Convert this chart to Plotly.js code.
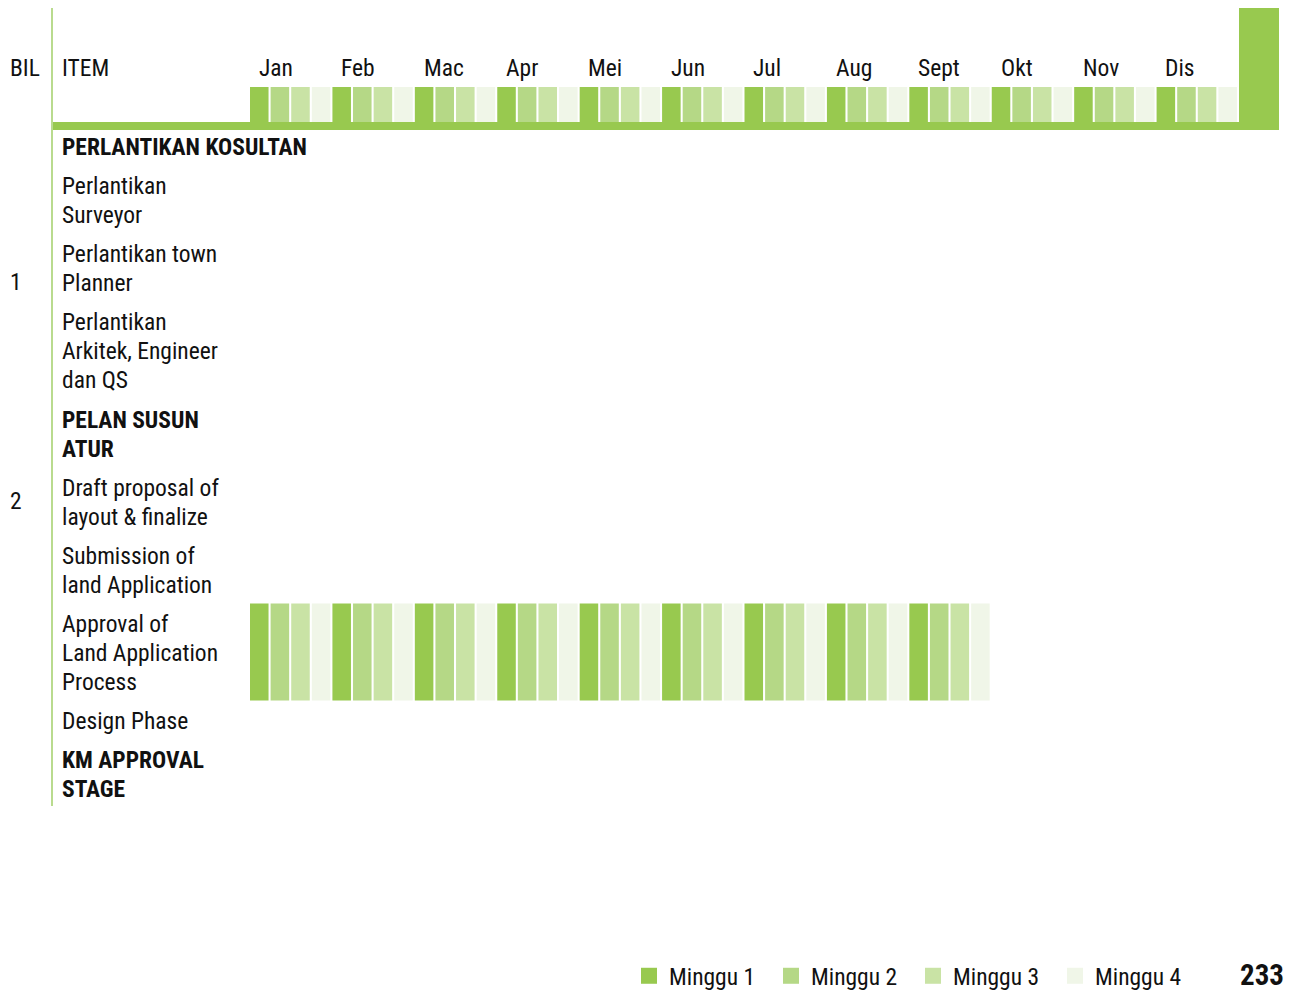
<!DOCTYPE html>
<html>
<head>
<meta charset="utf-8">
<script src="https://cdn.plot.ly/plotly-3.0.1.min.js"></script>
<style>
html, body { margin: 0; padding: 0; background: #fff; }
#chart { width: 1292px; height: 991px; }
</style>
</head>
<body>
<div id="chart"></div>
<script>
// data
var months = ['Jan', 'Feb', 'Mac', 'Apr', 'Mei', 'Jun', 'Jul', 'Aug', 'Sept', 'Okt', 'Nov', 'Dis'];
var weekNames = ['Minggu 1', 'Minggu 2', 'Minggu 3', 'Minggu 4'];
var itemNames = [
    'PERLANTIKAN KOSULTAN',
    'Perlantikan<br>Surveyor',
    'Perlantikan town<br>Planner',
    'Perlantikan<br>Arkitek, Engineer<br>dan QS',
    'PELAN SUSUN<br>ATUR',
    'Draft proposal of<br>layout & finalize',
    'Submission of<br>land Application',
    'Approval of<br>Land Application<br>Process',
    'Design Phase',
    'KM APPROVAL<br>STAGE'
];
var itemBold = [true, false, false, false, true, false, false, false, false, true];
// start / end month index of each item's bar (null = no bar)
var itemStart = [null, null, null, null, null, null, null, 0, null, null];
var itemEnd = [null, null, null, null, null, null, null, 9, null, null];
var bilLabels = ['1', '2'];

// layout stuff (pixels, y axis runs top->bottom)
var itemY = [147, 200.5, 268.5, 351, 434, 502.5, 570.5, 653, 721, 774.5];
var bilY = [282, 501];
var weekColors = ['#98c94f', '#b5d886', '#c9e3a5', '#f0f6e8'];
var W = 1292, H = 991;
var x0px = 250, pxPerWeek = 989 / 48;
var lineH = 29;
var fontFam = 'Roboto Condensed, Liberation Sans Narrow, DejaVu Sans Condensed, Roboto, sans-serif';
var txtSize = 23.5;

function px(x) { return x / W; }

var traces = [];
for (var w = 0; w < 4; w++) {
    var xs = [], bases = [], hs = [];
    // header row
    for (var m = 0; m < months.length; m++) {
        xs.push(m * 4 + w + 0.45);
        bases.push(87);
        hs.push(35);
    }
    // item bars
    for (var i = 0; i < itemNames.length; i++) {
        if (itemStart[i] === null) continue;
        var lines = itemNames[i].split('<br>').length;
        var bh = lines * lineH + 10;
        for (var m2 = itemStart[i]; m2 < itemEnd[i]; m2++) {
            xs.push(m2 * 4 + w + 0.45);
            bases.push(itemY[i] - bh / 2 - 1);
            hs.push(bh);
        }
    }
    traces.push({
        type: 'bar',
        x: xs,
        y: hs,
        base: bases,
        width: 0.9,
        marker: { color: weekColors[w], line: { width: 0 } },
        showlegend: false,
        hoverinfo: 'skip'
    });
}
// legend entries
for (var k = 0; k < 4; k++) {
    traces.push({
        type: 'scatter',
        mode: 'markers',
        x: [null], y: [null],
        name: weekNames[k],
        marker: { symbol: 'square', size: 18, color: weekColors[k] }
    });
}

var ann = [];
ann.push({ text: 'BIL', x: px(8), y: 68 });
ann.push({ text: 'ITEM', x: px(60), y: 68 });
for (var m3 = 0; m3 < months.length; m3++) {
    ann.push({ text: months[m3], xref: 'x', x: m3 * 4 + 0.33, y: 68 });
}
for (var j = 0; j < itemNames.length; j++) {
    var parts = itemNames[j].split('<br>');
    for (var p = 0; p < parts.length; p++) {
        var t = itemBold[j] ? '<b>' + parts[p] + '</b>' : parts[p];
        ann.push({ text: t, x: px(60), y: itemY[j] + (p - (parts.length - 1) / 2) * lineH });
    }
}
for (var b = 0; b < bilLabels.length; b++) {
    ann.push({ text: bilLabels[b], x: px(8), y: bilY[b] });
}
ann.push({ text: '<b>233</b>', x: px(1286), y: 975, xanchor: 'right', font: { size: 29 } });
ann = ann.map(function (a) {
    var f = Object.assign({ family: fontFam, size: txtSize, color: '#111' }, a.font || {});
    var o = Object.assign({
        xref: 'paper', yref: 'y', xanchor: 'left', yanchor: 'middle',
        showarrow: false, align: 'left'
    }, a);
    o.font = f;
    return o;
});

var layout = {
    width: W, height: H,
    margin: { l: 0, r: 0, t: 0, b: 0, autoexpand: false },
    paper_bgcolor: '#fff', plot_bgcolor: '#fff',
    barmode: 'overlay',
    xaxis: { range: [-x0px / pxPerWeek, (W - x0px) / pxPerWeek], visible: false, fixedrange: true },
    yaxis: { range: [H, 0], visible: false, fixedrange: true },
    showlegend: true,
    legend: {
        orientation: 'h',
        x: px(629), xanchor: 'left',
        y: 1 - 976 / H, yanchor: 'middle',
        font: { family: fontFam, size: txtSize, color: '#111' },
        entrywidth: 97, entrywidthmode: 'pixels',
        bgcolor: 'rgba(0,0,0,0)'
    },
    shapes: [
        // green strip under the header
        { type: 'rect', xref: 'paper', yref: 'y', x0: px(52), x1: px(1279), y0: 122, y1: 130,
          fillcolor: '#98c94f', line: { width: 0 }, layer: 'below' },
        // tall block at the right end of the header
        { type: 'rect', xref: 'paper', yref: 'y', x0: px(1239), x1: px(1279), y0: 8, y1: 130,
          fillcolor: '#98c94f', line: { width: 0 } },
        // divider between BIL and ITEM
        { type: 'line', xref: 'paper', yref: 'y', x0: px(52), x1: px(52), y0: 8, y1: 806,
          line: { color: '#b9db8e', width: 2 } }
    ],
    annotations: ann
};

Plotly.newPlot('chart', traces, layout, { displayModeBar: false, staticPlot: true });
</script>
</body>
</html>
